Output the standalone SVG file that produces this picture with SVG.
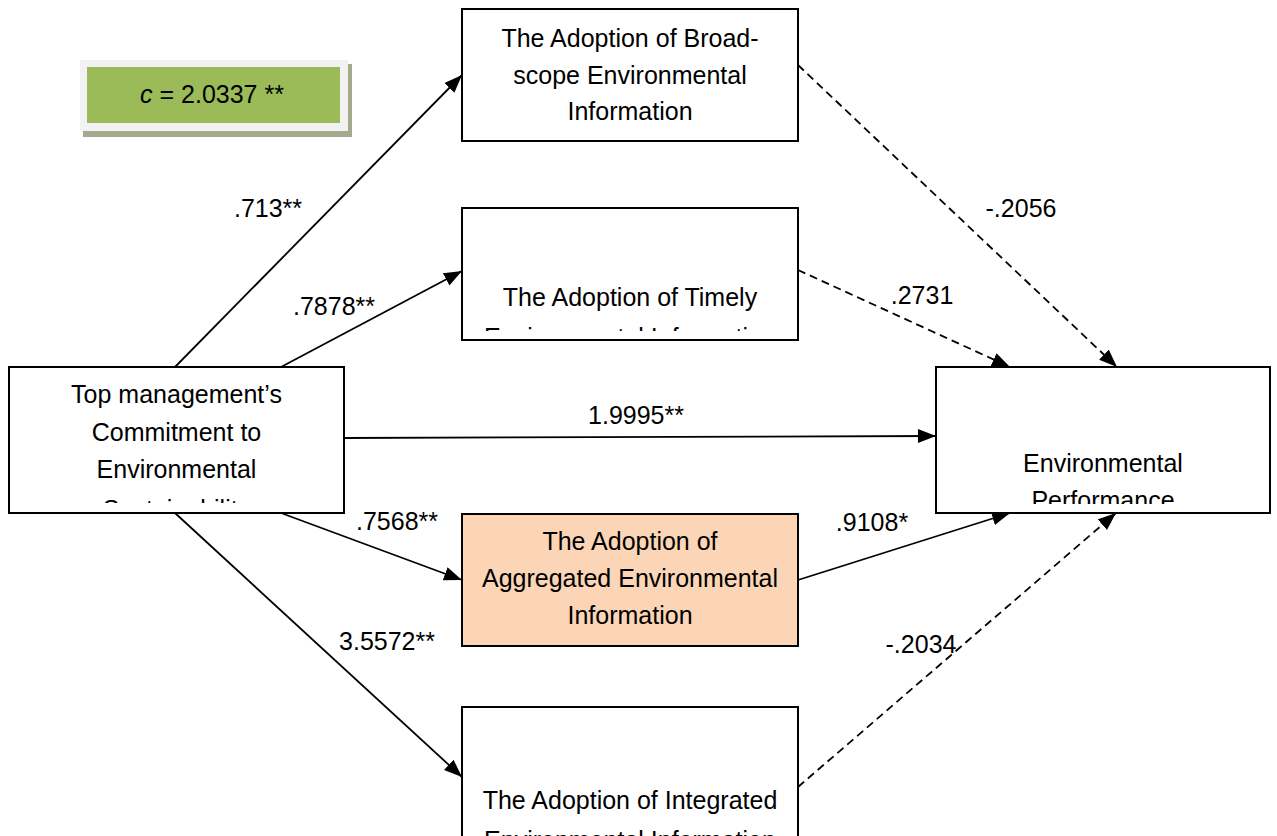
<svg xmlns="http://www.w3.org/2000/svg" width="1277" height="836" viewBox="0 0 1277 836">
<style>
.box{fill:#ffffff;stroke:#000000;stroke-width:2}
.agg{fill:#FBD5B5;stroke:#000000;stroke-width:2}
.t{font-family:"Liberation Sans",Arial,sans-serif;font-size:25px;fill:#000000;text-anchor:middle}
.lbl{font-family:"Liberation Sans",Arial,sans-serif;font-size:25px;fill:#000000;text-anchor:middle}
.ln{stroke:#000000;stroke-width:1.8;fill:none;marker-end:url(#ah)}
.dash{stroke-dasharray:8 5}
</style>
<defs>
<marker id="ah" markerUnits="userSpaceOnUse" markerWidth="19" markerHeight="15" refX="18" refY="7" orient="auto">
<path d="M0,0 L18,7 L0,14 z" fill="#000000"/>
</marker>
<clipPath id="c2"><rect x="462" y="208" width="336" height="123"/></clipPath>
<clipPath id="c3"><rect x="9" y="367" width="335" height="136"/></clipPath>
<clipPath id="c4"><rect x="936" y="367" width="334" height="137"/></clipPath>
</defs>
<rect width="1277" height="836" fill="#ffffff"/>

<g id="effect-c">
<rect x="83" y="64" width="269" height="73" fill="#A5A98D"/>
<rect x="80" y="60" width="268" height="71" fill="#F2F2F2"/>
<rect x="87" y="67" width="253" height="56" fill="#9BBB59"/>
<text class="t" x="212" y="103"><tspan font-style="italic">c</tspan> = 2.0337 **</text>
</g>

<g id="connectors">
<line class="ln" x1="175" y1="367" x2="462" y2="75"/>
<line class="ln" x1="281" y1="367" x2="462" y2="271"/>
<line class="ln" x1="344" y1="438" x2="936" y2="436"/>
<line class="ln" x1="281" y1="513" x2="462" y2="580"/>
<line class="ln" x1="175" y1="513" x2="462" y2="777"/>
<line class="ln dash" x1="798" y1="65" x2="1117" y2="367"/>
<line class="ln dash" x1="798" y1="270" x2="1010" y2="367"/>
<line class="ln" x1="798" y1="580" x2="1010" y2="513"/>
<line class="ln dash" x1="798" y1="787" x2="1116" y2="513"/>
</g>

<g id="labels">
<text class="lbl" x="268" y="217">.713**</text>
<text class="lbl" x="334" y="315">.7878**</text>
<text class="lbl" x="636" y="424">1.9995**</text>
<text class="lbl" x="397" y="530">.7568**</text>
<text class="lbl" x="387" y="650">3.5572**</text>
<text class="lbl" x="1021" y="217">-.2056</text>
<text class="lbl" x="922" y="304">.2731</text>
<text class="lbl" x="872" y="531">.9108*</text>
<text class="lbl" x="921" y="653">-.2034</text>
</g>

<g id="broadscope">
<rect class="box" x="462" y="9" width="336" height="132"/>
<text class="t" x="630" y="47">The Adoption of Broad-</text>
<text class="t" x="630" y="84">scope Environmental</text>
<text class="t" x="630" y="120">Information</text>
</g>

<g id="timely">
<rect class="box" x="462" y="208" width="336" height="132"/>
<g clip-path="url(#c2)">
<text class="t" x="630" y="306">The Adoption of Timely</text>
<text class="t" x="630" y="346">Environmental Information</text>
</g>
</g>

<g id="topmanagement">
<rect class="box" x="9" y="367" width="335" height="146"/>
<g clip-path="url(#c3)">
<text class="t" x="176.5" y="403">Top management’s</text>
<text class="t" x="176.5" y="441">Commitment to</text>
<text class="t" x="176.5" y="478">Environmental</text>
<text class="t" x="176.5" y="518">Sustainability</text>
</g>
</g>

<g id="performance">
<rect class="box" x="936" y="367" width="334" height="146"/>
<g clip-path="url(#c4)">
<text class="t" x="1103" y="472">Environmental</text>
<text class="t" x="1103" y="509">Performance</text>
</g>
</g>

<g id="aggregated">
<rect class="agg" x="462" y="514" width="336" height="132"/>
<text class="t" x="630" y="550">The Adoption of</text>
<text class="t" x="630" y="587">Aggregated Environmental</text>
<text class="t" x="630" y="624">Information</text>
</g>

<g id="integrated">
<rect class="box" x="462" y="707" width="336" height="150"/>
<text class="t" x="630" y="809">The Adoption of Integrated</text>
<text class="t" x="630" y="849">Environmental Information</text>
</g>
</svg>
